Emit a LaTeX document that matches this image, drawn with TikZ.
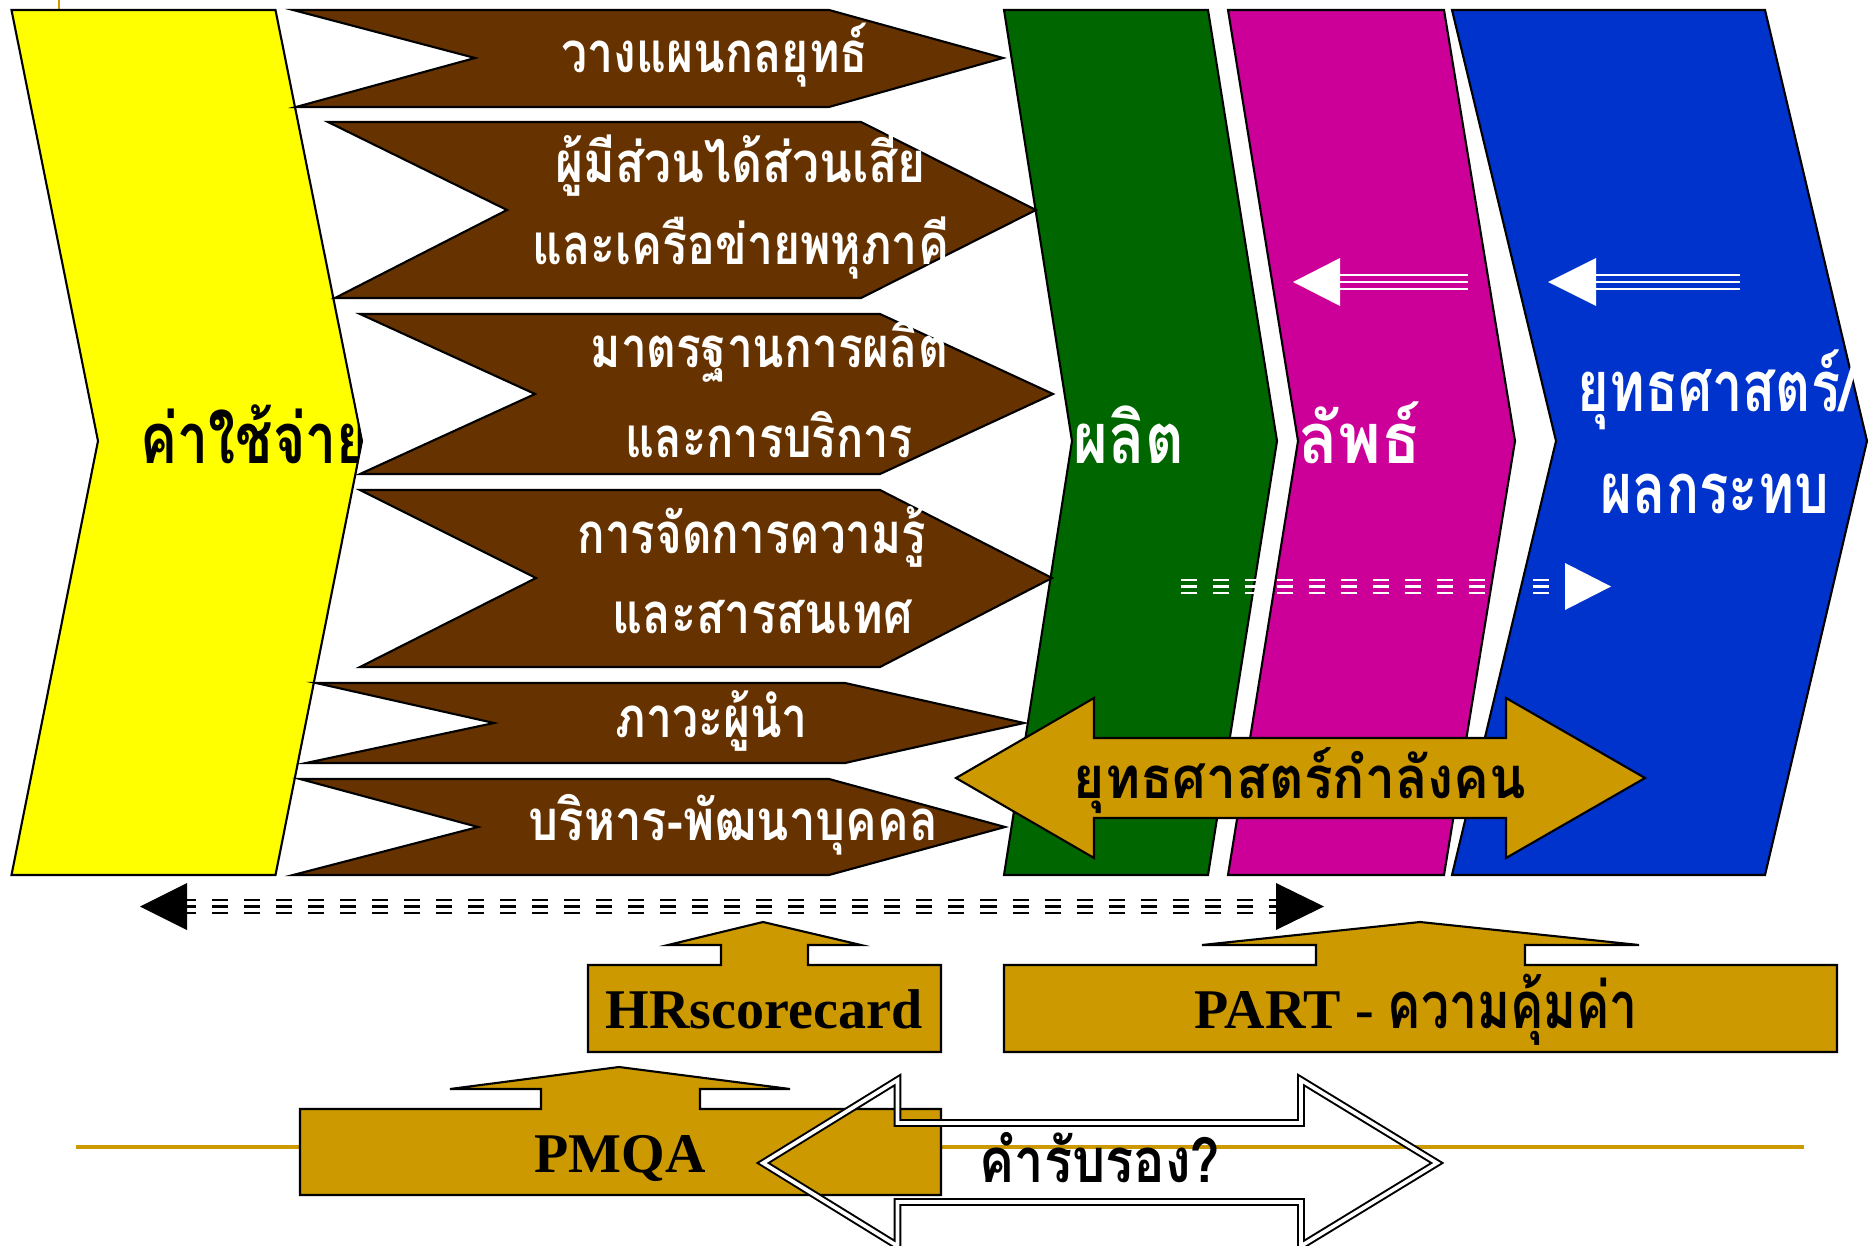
\documentclass[tikz,border=0pt]{standalone}
\usepackage{fontspec}
\newfontfamily\thai[Script=Thai]{Loma}
\newfontfamily\lat{Liberation Serif}
\definecolor{cyel}{HTML}{FFFF00}
\definecolor{cbrown}{HTML}{663300}
\definecolor{cgreen}{HTML}{006600}
\definecolor{cmag}{HTML}{CC0099}
\definecolor{cblue}{HTML}{0033CC}
\definecolor{cgold}{HTML}{CC9900}
\newcommand\tw[2]{\resizebox{#1cm}{\height}{#2}}
\tikzset{
  band/.style={draw=black, line width=0.6pt, line join=miter},
  brownarrow/.style={band, fill=cbrown},
  goldshape/.style={band, fill=cgold},
  thw/.style={inner sep=0pt, anchor=base west, text=white, font=\thai\bfseries\fontsize{16pt}{19pt}\selectfont},
  thbig/.style={thw, font=\thai\bfseries\fontsize{20pt}{24pt}\selectfont},
  thblk/.style={inner sep=0pt, anchor=base west, text=black, font=\thai\bfseries\fontsize{16.5pt}{20pt}\selectfont},
  latb/.style={inner sep=0pt, anchor=base, text=black, font=\lat\bfseries\fontsize{15.93pt}{19pt}\selectfont},
  bar/.style={line width=0.027cm, dash pattern=on 0.16cm off 0.16cm},
  wbar/.style={white, line width=0.023cm}
}
\begin{document}
\begin{tikzpicture}[x=0.01cm,y=-0.01cm]
\useasboundingbox (0,0) rectangle (1870,1246);

% template lines
\draw[cgold, line width=0.04cm] (76,1147) -- (1804,1147);
\draw[cgold, line width=0.02cm] (59,0) -- (59,9);

% bands
\filldraw[band, fill=cyel] (11.5,10) -- (275.5,10) -- (362,441) -- (275.5,875) -- (11.5,875) -- (98,441) -- cycle;
\filldraw[band, fill=cgreen] (1004,10) -- (1208,10) -- (1277,441) -- (1208,875) -- (1004,875) -- (1072,441) -- cycle;
\filldraw[band, fill=cmag] (1228,10) -- (1444,10) -- (1515,441) -- (1444,875) -- (1228,875) -- (1298,441) -- cycle;
\filldraw[band, fill=cblue] (1452,10) -- (1765,10) -- (1867,441) -- (1765,875) -- (1452,875) -- (1556,441) -- cycle;

% yellow label (clipped)
\begin{scope}
\clip (11.5,10) -- (275.5,10) -- (362,441) -- (275.5,875) -- (11.5,875) -- (98,441) -- cycle;
\node[thbig, text=black] (cost) at (140,463) {\tw{2.28}{ค่าใช้จ่าย}};
\end{scope}

% brown arrows
\filldraw[brownarrow] (293,10) -- (829,10) -- (1003,58) -- (829,107) -- (296,107) -- (475,58) -- cycle;
\filldraw[brownarrow] (328,122) -- (861,122) -- (1036,210) -- (861,298) -- (335,298) -- (507,210) -- cycle;
\filldraw[brownarrow] (360,314) -- (880,314) -- (1053,394) -- (880,474) -- (360,474) -- (535,394) -- cycle;
\filldraw[brownarrow] (360,490) -- (880,490) -- (1052,578) -- (880,667) -- (360,667) -- (536,578) -- cycle;
\filldraw[brownarrow] (316,683) -- (845,683) -- (1024,723) -- (845,763) -- (306,763) -- (494,723) -- cycle;
\filldraw[brownarrow] (300,779) -- (829,779) -- (1005,827) -- (829,875) -- (293,875) -- (478,827) -- cycle;

\node[thw] (t1) at (561,73) {\tw{3.06}{วางแผนกลยุทธ์}};
\node[thw] (t2a) at (555,183) {\tw{3.70}{ผู้มีส่วนได้ส่วนเสีย}};
\node[thw] (t2b) at (532,265) {\tw{4.16}{และเครือข่ายพหุภาคี}};
\node[thw] (t3a) at (590,367) {\tw{3.57}{มาตรฐานการผลิต}};
\node[thw] (t3b) at (625,457) {\tw{2.87}{และการบริการ}};
\node[thw] (t4a) at (577,553) {\tw{3.48}{การจัดการความรู้}};
\node[thw] (t4b) at (612,633) {\tw{3.00}{และสารสนเทศ}};
\node[thw] (t5) at (615,737) {\tw{1.92}{ภาวะผู้นำ}};
\node[thw] (t6) at (528,840) {\tw{4.09}{บริหาร-พัฒนาบุคคล}};

% band labels
\node[thbig] (out) at (1073,463) {\tw{1.10}{ผลิต}};
\node[thbig] (res) at (1298,463) {\tw{1.22}{ลัพธ์}};
\node[thbig] (str) at (1577,412) {\tw{2.78}{ยุทธศาสตร์/}};
\node[thbig] (imp) at (1600,513) {\tw{2.28}{ผลกระทบ}};

% white triple arrows (pointing left)
\fill[white] (1293,282) -- (1340,258) -- (1340,306) -- cycle;
\foreach \yy in {275,282.3,289.3} \draw[wbar] (1338,\yy) -- (1468,\yy);
\fill[white] (1548,282) -- (1596,258) -- (1596,306) -- cycle;
\foreach \yy in {275,282.3,289.3} \draw[wbar] (1594,\yy) -- (1740,\yy);

% white dashed arrow (pointing right)
\foreach \yy in {580,586.5,593} \draw[bar, white] (1180.5,\yy) -- (1550,\yy);
\fill[white] (1611,586.5) -- (1565,563) -- (1565,610) -- cycle;

% gold double arrow
\filldraw[goldshape] (956,778) -- (1094,698) -- (1094,738) -- (1506,738) -- (1506,698) -- (1645,778) -- (1506,858) -- (1506,818) -- (1094,818) -- (1094,858) -- cycle;
\node[thblk] (hr) at (1073,798) {\tw{4.52}{ยุทธศาสตร์กำลังคน}};

% black dashed double arrow
\foreach \yy in {900,906.5,913} \draw[bar, black] (180,\yy) -- (1284,\yy);
\fill[black] (140,906.5) -- (187,883) -- (187,930) -- cycle;
\fill[black] (1324,906.5) -- (1276,883) -- (1276,930) -- cycle;

% callout boxes
\filldraw[goldshape] (588,965) -- (721,965) -- (721,945) -- (668,945) -- (763,922) -- (861,945) -- (808,945) -- (808,965) -- (941,965) -- (941,1052) -- (588,1052) -- cycle;
\node[latb] (hrsc) at (764,1028) {HRscorecard};

\filldraw[goldshape] (1004,965) -- (1316,965) -- (1316,945) -- (1202,945) -- (1420,922) -- (1639,945) -- (1525,945) -- (1525,965) -- (1837,965) -- (1837,1052) -- (1004,1052) -- cycle;
\node[latb, anchor=base west] (part) at (1194,1028) {PART - {\thai\bfseries\fontsize{18.5pt}{22pt}\selectfont\tw{2.50}{ความคุ้มค่า}}};

\filldraw[goldshape] (300,1109) -- (541,1109) -- (541,1089) -- (450,1089) -- (619,1067) -- (790,1089) -- (700,1089) -- (700,1109) -- (941,1109) -- (941,1195) -- (300,1195) -- cycle;
\node[latb] (pmqa) at (620,1172) {PMQA};

% double outline arrow
\draw[draw=black, line width=0.02cm, double=white, double distance=0.037cm, line join=miter] (763,1163) -- (897.5,1080) -- (897.5,1123) -- (1301,1123) -- (1301,1080) -- (1437,1163) -- (1301,1246) -- (1301,1202) -- (897.5,1202) -- (897.5,1246) -- cycle;
\node[thblk, font=\thai\bfseries\fontsize{17.5pt}{21pt}\selectfont] (cert) at (979,1182) {\tw{2.40}{คำรับรอง?}};
\end{tikzpicture}
\end{document}
